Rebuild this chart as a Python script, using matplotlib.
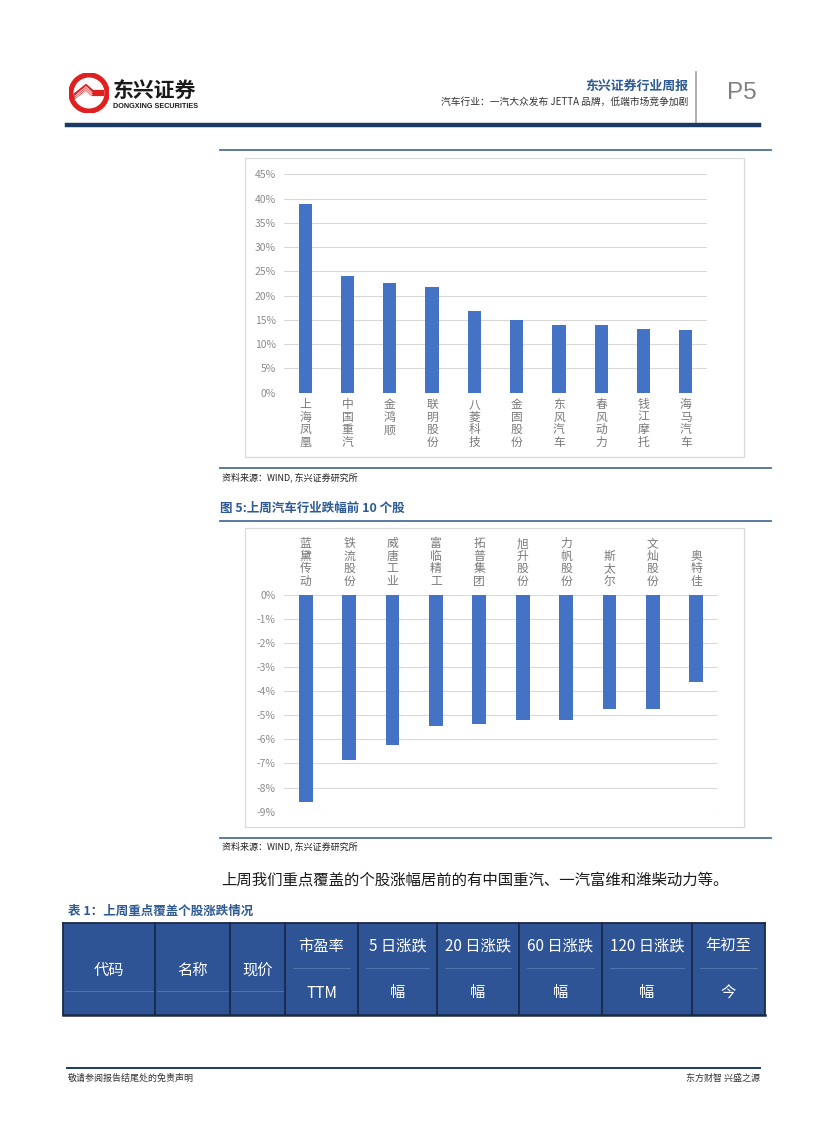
import numpy as np
import matplotlib
matplotlib.use("Agg")
import matplotlib.pyplot as plt
from matplotlib.patches import Rectangle, Circle, Polygon
from matplotlib.lines import Line2D

plt.rcParams['font.family'] = ['Noto Sans CJK SC', 'DejaVu Sans']

# ---- data ----
up_names = ['上海凤凰', '中国重汽', '金鸿顺', '联明股份', '八菱科技',
            '金固股份', '东风汽车', '春风动力', '钱江摩托', '海马汽车']
up_values = [38.9, 24.0, 22.6, 21.8, 16.9, 15.0, 13.9, 13.9, 13.2, 12.9]

down_names = ['蓝黛传动', '铁流股份', '威唐工业', '富临精工', '拓普集团',
              '旭升股份', '力帆股份', '斯太尔', '文灿股份', '奥特佳']
down_values = [-8.59, -6.85, -6.25, -5.44, -5.38, -5.20, -5.18, -4.76, -4.73, -3.62]

table_cols = [('代码', None), ('名称', None), ('现价', None), ('市盈率', 'TTM'),
              ('5 日涨跌', '幅'), ('20 日涨跌', '幅'), ('60 日涨跌', '幅'),
              ('120 日涨跌', '幅'), ('年初至', '今')]
col_edges = [63, 155, 230, 285, 358, 437, 519, 602, 692, 765]

W, H = 827, 1122
BAR = '#4472C4'
TITLE_BLUE = '#2D5A94'
LINE_BLUE = '#4D7098'
NAVY = '#1B3A63'
TICK = '#8C8C8C'


def fx(x):
    return x / W


def fy(y):
    return 1 - y / H


def hline(fig, x0, x1, y, color, lw):
    fig.add_artist(Line2D([fx(x0), fx(x1)], [fy(y), fy(y)], color=color, lw=lw))


def vline(fig, x, y0, y1, color, lw):
    fig.add_artist(Line2D([fx(x), fx(x)], [fy(y0), fy(y1)], color=color, lw=lw))


def box(fig, x0, y0, x1, y1, **kw):
    fig.add_artist(Rectangle((fx(x0), fy(y1)), (x1 - x0) / W, (y1 - y0) / H,
                             transform=fig.transFigure, **kw))


def axes_px(fig, x0, y0, x1, y1):
    return fig.add_axes([fx(x0), fy(y1), (x1 - x0) / W, (y1 - y0) / H])


fig = plt.figure(figsize=(W / 100, H / 100), dpi=100)
fig.patch.set_facecolor('white')

# ---- header ----
lg = axes_px(fig, 69, 73, 109, 113)
lg.set_xlim(-1, 1)
lg.set_ylim(-1, 1)
lg.set_aspect('equal')
lg.axis('off')
lg.add_patch(Circle((0, 0), 1.0, color='#E02020'))
lg.add_patch(Circle((0, 0), 0.74, color='white'))
lg.add_patch(Polygon([(-0.74, -0.05), (-0.15, 0.42), (0.2, 0.12), (0.74, 0.12),
                      (0.74, -0.12), (0.1, -0.12), (-0.15, 0.12), (-0.74, -0.3)],
                     closed=True, color='#E02020'))
for k in range(3):
    off = -0.1 - 0.1 * k
    lg.plot([-0.7, -0.15, 0.15], [off - 0.05, 0.42 + off, 0.12 + off], color='white', lw=0.6)

fig.text(fx(113), fy(90), '东兴证券', fontsize=15, fontweight='bold', color='#1A1A1A',
         va='center', ha='left')
fig.text(fx(113), fy(106), 'DONGXING SECURITIES', fontsize=5.2, fontweight='bold',
         color='#1A1A1A', va='center', ha='left', family='Liberation Sans')

fig.text(fx(688), fy(86), '东兴证券行业周报', fontsize=9.3, fontweight='bold',
         color=TITLE_BLUE, va='center', ha='right')
fig.text(fx(688), fy(102), '汽车行业：一汽大众发布 JETTA 品牌，低端市场竞争加剧',
         fontsize=7.0, color='#333333', va='center', ha='right')
vline(fig, 696, 72, 122, '#A0A0A0', 1.2)
fig.text(fx(727), fy(93), 'P5', fontsize=17.5, color='#808080', va='center', ha='left',
         family='Liberation Sans')
hline(fig, 67, 759, 125, NAVY, 3.2)

# ---- chart 1 ----
hline(fig, 220, 771, 150, LINE_BLUE, 1.3)
box(fig, 245, 158, 744, 457, fill=False, ec='#D9D9D9', lw=0.9)
ax1 = axes_px(fig, 284, 174.3, 707, 392.7)
x = np.arange(len(up_names))
ax1.bar(x, up_values, width=0.31, color=BAR, zorder=3)
ax1.set_xlim(-0.5, len(up_names) - 0.5)
ax1.set_ylim(0, 45)
ax1.set_yticks(np.arange(0, 46, 5))
ax1.set_yticklabels([f'{v}%' for v in range(0, 46, 5)])
ax1.set_xticks(x)
ax1.set_xticklabels(['\n'.join(n) for n in up_names], linespacing=0.95)
ax1.grid(axis='y', color='#D9D9D9', lw=0.8, zorder=0)
for s in ax1.spines.values():
    s.set_visible(False)
ax1.tick_params(axis='y', length=0, pad=6, labelsize=7.5, labelcolor=TICK)
ax1.tick_params(axis='x', length=0, pad=4, labelsize=8.5, labelcolor='#7A7A7A')
for t in ax1.get_xticklabels():
    t.set_va('top')
hline(fig, 220, 771, 468, LINE_BLUE, 1.3)
fig.text(fx(222), fy(477), '资料来源：WIND, 东兴证券研究所', fontsize=6.5, style='italic',
         color='#222222', va='center', ha='left')

# ---- chart 2 ----
fig.text(fx(220), fy(508), '图 5:上周汽车行业跌幅前 10 个股', fontsize=9, fontweight='bold',
         color=TITLE_BLUE, va='center', ha='left')
hline(fig, 220, 771, 521, LINE_BLUE, 1.3)
box(fig, 245, 528, 744, 827, fill=False, ec='#D9D9D9', lw=0.9)
ax2 = axes_px(fig, 284, 594.7, 718, 811.7)
x2 = np.arange(len(down_names))
ax2.bar(x2, down_values, width=0.32, color=BAR, zorder=3)
ax2.set_xlim(-0.5, len(down_names) - 0.5)
ax2.set_ylim(-9, 0)
ax2.set_yticks(np.arange(-9, 1, 1))
ax2.set_yticklabels([f'-{abs(v)}%' if v else '0%' for v in range(-9, 1)])
ax2.xaxis.tick_top()
ax2.set_xticks(x2)
ax2.set_xticklabels(['\n'.join(n) for n in down_names], linespacing=0.95)
ax2.grid(axis='y', color='#D9D9D9', lw=0.8, zorder=0)
for s in ax2.spines.values():
    s.set_visible(False)
ax2.tick_params(axis='y', length=0, pad=6, labelsize=7.5, labelcolor=TICK)
ax2.tick_params(axis='x', length=0, pad=5, labelsize=8.5, labelcolor='#7A7A7A')
for t in ax2.get_xticklabels():
    t.set_va('bottom')
hline(fig, 220, 771, 838, LINE_BLUE, 1.3)
fig.text(fx(222), fy(846), '资料来源：WIND, 东兴证券研究所', fontsize=6.5, style='italic',
         color='#222222', va='center', ha='left')

# ---- body text ----
fig.text(fx(221), fy(880), '上周我们重点覆盖的个股涨幅居前的有中国重汽、一汽富维和潍柴动力等。',
         fontsize=11.1, color='#1A1A1A', va='center', ha='left')

# ---- table ----
fig.text(fx(68), fy(911), '表 1：上周重点覆盖个股涨跌情况', fontsize=9, fontweight='bold',
         color=TITLE_BLUE, va='center', ha='left')
top, bot = 923, 1015
box(fig, col_edges[0], top, col_edges[-1], bot, fc='#2F5496', ec='none')
for i, (a, b) in enumerate(table_cols):
    x0, x1 = col_edges[i], col_edges[i + 1]
    cx = (x0 + x1) / 2
    if b is None:
        fig.text(fx(cx), fy(970), a, fontsize=11, color='white', va='center', ha='center')
        hline(fig, x0 + 2, x1 - 2, 991, '#5A78B0', 0.6)
    else:
        fig.text(fx(cx), fy(946), a, fontsize=11, color='white', va='center', ha='center')
        fig.text(fx(cx), fy(993), b, fontsize=11, color='white', va='center', ha='center')
        hline(fig, x0 + 8, x1 - 8, 968, '#5A78B0', 0.6)
for xe in col_edges:
    vline(fig, xe, top, bot, '#1A2A48', 1.3)
hline(fig, col_edges[0], col_edges[-1], top, '#1A2A48', 1.3)
hline(fig, col_edges[0], col_edges[-1], bot, '#1A2A48', 1.8)

# ---- footer ----
hline(fig, 67, 760, 1068, NAVY, 1.4)
fig.text(fx(68), fy(1078), '敬请参阅报告结尾处的免责声明', fontsize=6.5, color='#333333',
         va='center', ha='left')
fig.text(fx(760), fy(1078), '东方财智 兴盛之源', fontsize=6.5, color='#333333',
         va='center', ha='right')

fig.savefig('out.png', dpi=100, facecolor='white')
